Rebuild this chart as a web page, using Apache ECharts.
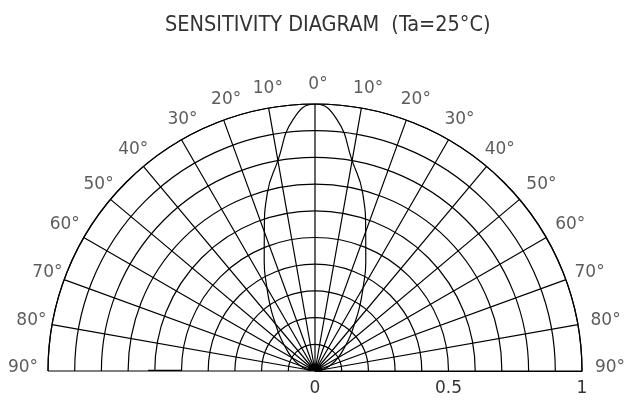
<!DOCTYPE html>
<html>
<head>
<meta charset="utf-8">
<script src="https://cdn.jsdelivr.net/npm/echarts@6/dist/echarts.min.js"></script>
<style>
  html, body { margin: 0; padding: 0; background: #fff; }
  #chart { width: 628px; height: 400px; }
</style>
</head>
<body>
<div id="chart"></div>
<script>
// angles in degrees off the axis, relative sensitivity
var angles = [-90, -80, -70, -60, -50, -45, -40, -35, -30, -25, -20, -15, -10, -5, 0,
              5, 10, 15, 20, 25, 30, 35, 40, 45, 50, 60, 70, 80, 90];
var sensitivity = [0, 0.03, 0.06, 0.10, 0.15, 0.187, 0.23, 0.29, 0.36, 0.45, 0.555, 0.69, 0.80, 0.945, 1.0,
                   0.945, 0.80, 0.69, 0.555, 0.45, 0.36, 0.29, 0.23, 0.187, 0.15, 0.10, 0.06, 0.03, 0];
// angle tick labels (positive = left half, negative = right half)
var angleTicks = [90, 80, 70, 60, 50, 40, 30, 20, 10, 0, -10, -20, -30, -40, -50, -60, -70, -80, -90];
var radiusLabels = ['0', '0.5', '1'];

var lobe = [];
for (var i = 0; i < angles.length; i++) {
    lobe.push([sensitivity[i], angles[i]]);
}

// the drawing's angle labels are hand placed; small pixel nudges
var labelOffset = {
    '0': [3, 3], '10': [3, 2], '20': [10, 0], '30': [12, -1], '40': [4, 0], '50': [5, -1],
    '60': [0, -2], '70': [4, 0], '80': [1, 0], '90': [-3, -3],
    '-10': [3, 2], '-20': [2, 0], '-30': [0, -1], '-40': [-1, 0], '-50': [5, -1],
    '-60': [5, -2], '-70': [3, 0], '-80': [6, 0], '-90': [6, -3]
};

var labelR = 1.0824;   // just outside the rim
var angleLabelData = angleTicks.map(function (a) {
    return {
        value: [labelR, a],
        label: { offset: labelOffset[String(a)] || [0, 0] }
    };
});

var myChart = echarts.init(document.getElementById('chart'));

var option = {
    animation: false,
    title: {
        text: 'SENSITIVITY DIAGRAM  (Ta=25°C)',
        left: 160,
        top: 9,
        textStyle: {
            fontFamily: 'DejaVu Sans Condensed',
            fontWeight: 200,
            fontSize: 21.5,
            color: '#333'
        }
    },
    polar: {
        center: [315, 371],
        radius: 267
    },
    angleAxis: {
        type: 'value',
        min: -90,
        max: 90,
        interval: 10,
        startAngle: 0,
        endAngle: 180,
        clockwise: false,
        axisLine: { show: true, lineStyle: { color: '#000', width: 1.2 } },
        axisTick: { show: false },
        splitLine: { show: true, lineStyle: { color: '#000', width: 1.2 } },
        axisLabel: { show: false }
    },
    radiusAxis: {
        type: 'value',
        min: 0,
        max: 1,
        interval: 0.1,
        axisLine: { show: true, lineStyle: { color: '#000', width: 1.2 } },
        axisTick: { show: false },
        splitLine: { show: true, lineStyle: { color: '#000', width: 1.2 } },
        axisLabel: {
            margin: -9,
            align: 'center',
            verticalAlign: 'top',
            showMinLabel: true,
            showMaxLabel: true,
            hideOverlap: false,
            fontFamily: 'DejaVu Sans',
            fontSize: 17,
            color: '#333',
            formatter: function (v) {
                var s = String(Math.round(v * 10) / 10);
                return radiusLabels.indexOf(s) >= 0 ? s : '';
            }
        }
    },
    series: [{
        type: 'line',
        coordinateSystem: 'polar',
        data: lobe,
        smooth: true,
        symbol: 'none',
        lineStyle: { color: '#000', width: 1.2 }
    }, {
        // short heavier stroke on the baseline
        type: 'line',
        coordinateSystem: 'polar',
        data: [[0.5, 90], [0.625, 90]],
        symbol: 'none',
        lineStyle: { color: '#000', width: 2.5 }
    }, {
        // angle labels round the rim
        type: 'scatter',
        coordinateSystem: 'polar',
        data: angleLabelData,
        symbolSize: 1,
        clip: false,
        silent: true,
        itemStyle: { color: 'rgba(255,255,255,0)' },
        label: {
            show: true,
            position: 'inside',
            align: 'center',
            verticalAlign: 'middle',
            fontFamily: 'DejaVu Sans',
            fontSize: 17,
            color: '#333',
            formatter: function (p) { return Math.abs(p.value[1]) + '°'; }
        }
    }]
};

myChart.setOption(option);
</script>
</body>
</html>
